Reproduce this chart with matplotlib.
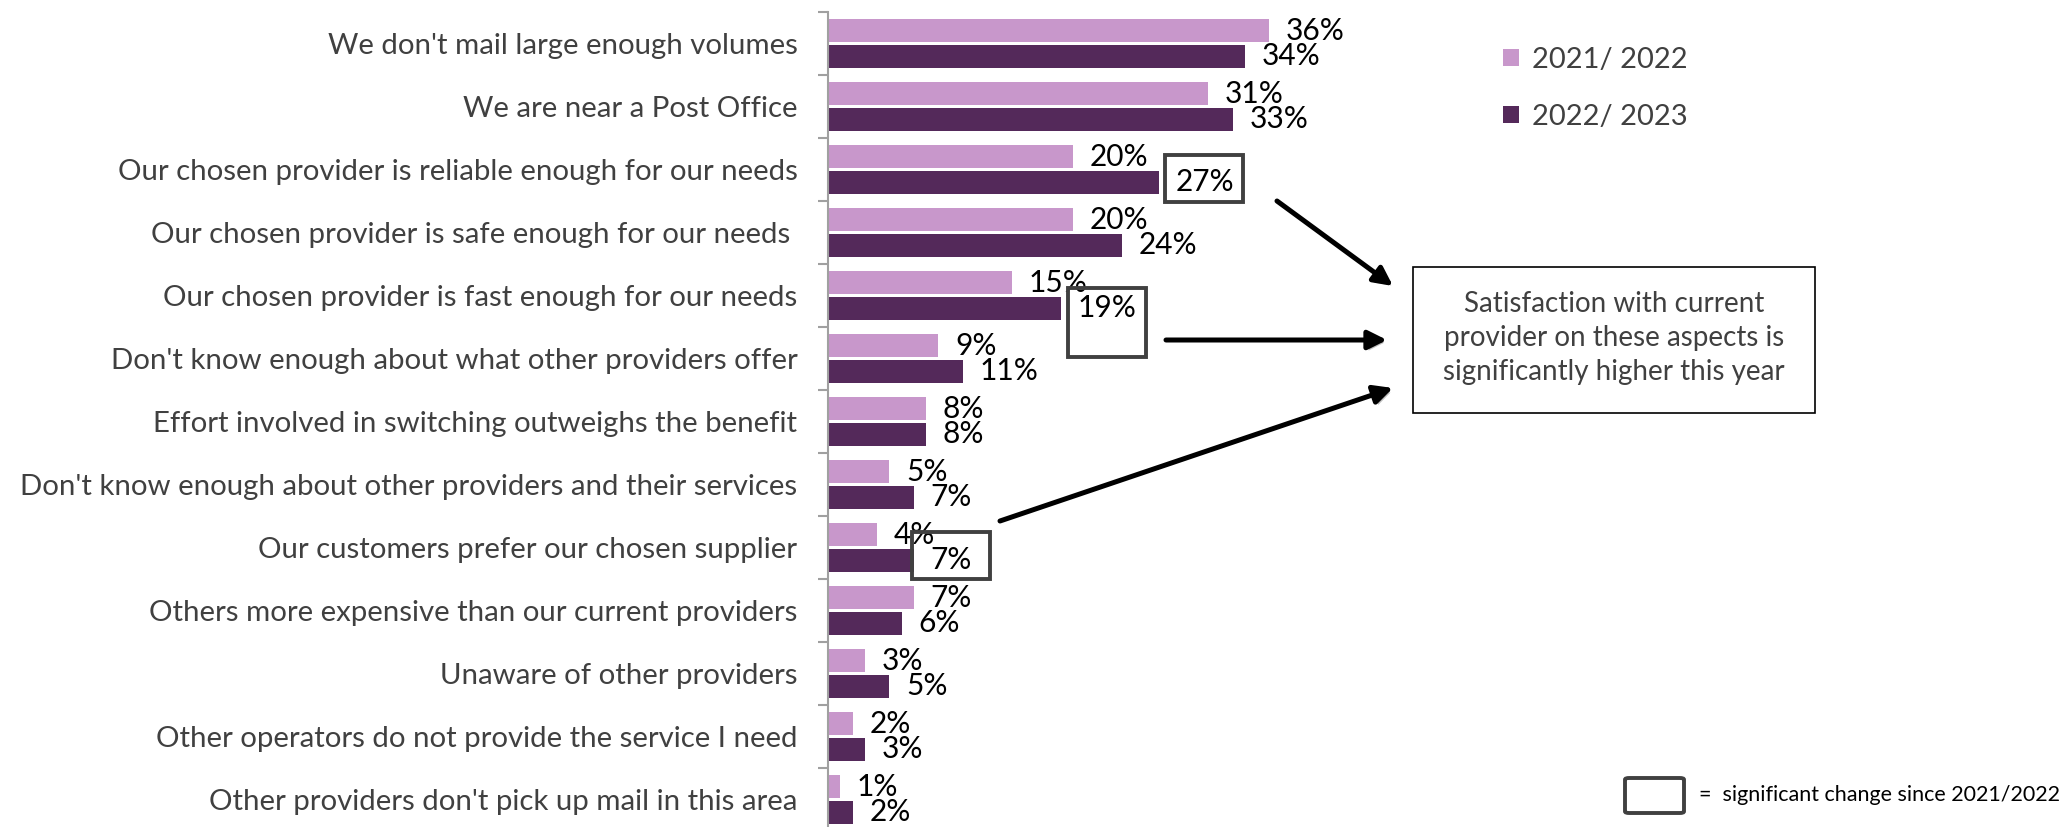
import matplotlib.pyplot as plt
from matplotlib.patches import Rectangle, FancyBboxPatch
from matplotlib import patheffects as pe
import numpy as np

# reasons for staying with the current provider
categories = [
    "We don't mail large enough volumes",
    "We are near a Post Office",
    "Our chosen provider is reliable enough for our needs",
    "Our chosen provider is safe enough for our needs ",
    "Our chosen provider is fast enough for our needs",
    "Don't know enough about what other providers offer",
    "Effort involved in switching outweighs the benefit",
    "Don't know enough about other providers and their services",
    "Our customers prefer our chosen supplier",
    "Others more expensive than our current providers",
    "Unaware of other providers",
    "Other operators do not provide the service I need",
    "Other providers don't pick up mail in this area",
]
vals_2122 = [36, 31, 20, 20, 15, 9, 8, 5, 4, 7, 3, 2, 1]
vals_2223 = [34, 33, 27, 24, 19, 11, 8, 7, 7, 6, 5, 3, 2]
series_names = ["2021/ 2022", "2022/ 2023"]
significant = [2, 4, 8]  # rows where 2022/23 changed significantly

LIGHT = "#C897CB"
DARK = "#54295A"
GREY_TXT = "#404040"
FONT = "Lato"

W, H = 2065, 827
plt.rcParams["font.family"] = [FONT, "DejaVu Sans"]

fig = plt.figure(figsize=(W / 100, H / 100), dpi=100)


def fx(px):
    return px / W


def fy(py):
    return 1 - py / H


# axes: spine at x=828, rows 63 px apart starting at y=12
ax_left, ax_top, row_px, px_per_pct = 828, 12, 63, 12.26
n = len(categories)
ax = fig.add_axes([fx(ax_left), fy(ax_top + n * row_px),
                   (W - ax_left) / W, n * row_px / H])
ax.set_xlim(0, (W - ax_left) / px_per_pct)
ax.set_ylim(n - 0.5, -0.5)

y = np.arange(n)
bh, off = 0.365, 0.206
ax.barh(y - off, vals_2122, height=bh, color=LIGHT, label=series_names[0])
ax.barh(y + off, vals_2223, height=bh, color=DARK, label=series_names[1])

# value labels
for i in range(n):
    for v, dy in ((vals_2122[i], -off), (vals_2223[i], off)):
        ax.annotate(f"{v}%", xy=(v, i + dy), xytext=(12, 0),
                    textcoords="offset points", va="center", ha="left",
                    fontsize=21.5, color="black")

# boxes around significant changes (x offset from bar end, y span in rows)
sig_boxes = {2: (0.49, -0.23, 0.52), 4: (0.58, -0.12, 0.98), 8: (-0.15, -0.25, 0.50)}
for i in significant:
    dx, y0, y1 = sig_boxes[i]
    ax.add_patch(Rectangle((vals_2223[i] + dx, i + y0), 6.35, y1 - y0,
                           fill=False, edgecolor=GREY_TXT, lw=2.8,
                           zorder=5, clip_on=False))

# axis styling
for s in ("top", "right", "bottom"):
    ax.spines[s].set_visible(False)
ax.spines["left"].set_color("#A0A0A0")
ax.spines["left"].set_linewidth(1.5)
ax.set_xticks([])
ax.set_yticks(y)
ax.set_yticklabels(categories, fontsize=21.2, color=GREY_TXT)
ax.tick_params(axis="y", which="major", length=0, pad=22)
ax.set_yticks(np.arange(-0.5, n, 1), minor=True)
ax.tick_params(axis="y", which="minor", length=7.2, width=1.5,
               color="#A0A0A0", direction="out")

# legend
fig.legend(loc="upper left", bbox_to_anchor=(fx(1503), fy(47)),
           frameon=False, fontsize=21, handlelength=0.55, handleheight=0.55,
           handletextpad=0.45, labelspacing=1.06, borderpad=0,
           borderaxespad=0, labelcolor=GREY_TXT)

# call-out box
fig.add_artist(Rectangle((fx(1413), fy(413)), fx(1815) - fx(1413),
                         fy(267) - fy(413), transform=fig.transFigure,
                         fill=False, edgecolor="black", lw=1.2))
fig.text(fx(1614), fy(338),
         "Satisfaction with current\nprovider on these aspects is\nsignificantly higher this year",
         ha="center", va="center", fontsize=20, color=GREY_TXT,
         linespacing=1.4)

# arrows to the call-out
shadow = [pe.SimplePatchShadow(offset=(2, -2), alpha=0.25), pe.Normal()]
for (x0, y0), (x1, y1) in [((1277, 201), (1393, 286)),
                           ((1166, 340), (1387, 340)),
                           ((1000, 521), (1393, 388))]:
    a = ax.annotate("", xy=(fx(x1), fy(y1)), xytext=(fx(x0), fy(y0)),
                    xycoords="figure fraction", textcoords="figure fraction",
                    arrowprops=dict(arrowstyle="-|>", lw=3.6, color="black",
                                    mutation_scale=28, shrinkA=0, shrinkB=0))
    a.arrow_patch.set_path_effects(shadow)

# key for the highlight boxes
fig.add_artist(FancyBboxPatch((fx(1625), fy(813)), fx(1684) - fx(1625),
                              fy(778) - fy(813), transform=fig.transFigure,
                              boxstyle="round,pad=0,rounding_size=0.002",
                              fill=False, edgecolor=GREY_TXT, lw=2.8))
fig.text(fx(1699), fy(795), "=  significant change since 2021/2022",
         ha="left", va="center", fontsize=15.5, color="black")

fig.savefig("out.png", dpi=100)
